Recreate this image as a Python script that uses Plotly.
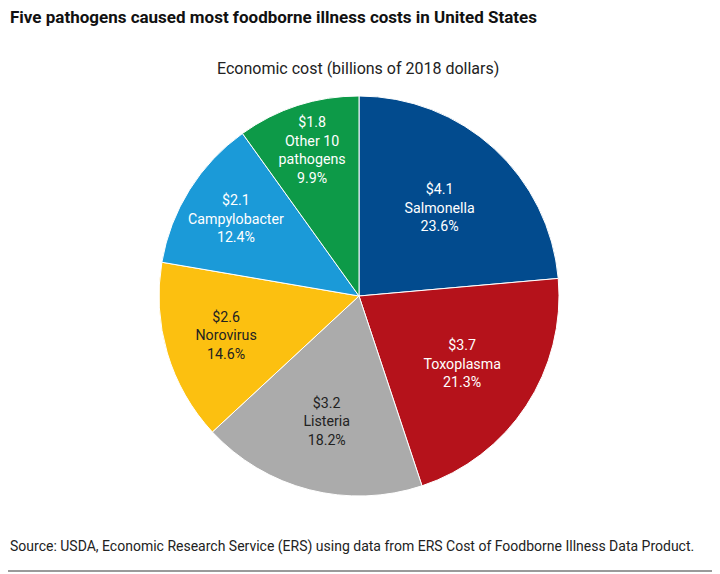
import plotly.graph_objects as go

# slices clockwise from 12 o'clock
pathogens = ["Salmonella", "Toxoplasma", "Listeria", "Norovirus", "Campylobacter", "Other 10<br>pathogens"]
cost_billions = [4.1, 3.7, 3.2, 2.6, 2.1, 1.8]
share_pct = [23.6, 21.3, 18.2, 14.6, 12.4, 9.9]

colors = ["#024b8e", "#b5121b", "#ababab", "#fcc010", "#1b9ad8", "#0d9a48"]
text_colors = ["white", "white", "#222222", "#222222", "white", "white"]

labels = ["$%.1f<br>%s<br>%.1f%%" % (c, p, s) for c, p, s in zip(cost_billions, pathogens, share_pct)]

fig = go.Figure(go.Pie(
    values=share_pct,
    labels=pathogens,
    text=labels,
    textinfo="text",
    textposition="inside",
    insidetextorientation="horizontal",
    textfont=dict(family="Roboto", size=16.5, color=text_colors),
    marker=dict(colors=colors, line=dict(color="white", width=1)),
    sort=False,
    direction="clockwise",
    rotation=0,
    hoverinfo="label+value",
    domain=dict(x=[0.2097, 0.7653], y=[0.1498, 0.8467]),
    showlegend=False,
))

fig.update_layout(
    width=720, height=574,
    margin=dict(l=0, r=0, t=0, b=0),
    paper_bgcolor="white",
    font=dict(family="Roboto", color="#111111"),
    uniformtext=dict(minsize=14, mode="show"),
)

fig.add_annotation(text="<b>Five pathogens caused most foodborne illness costs in United States</b>",
                   xref="paper", yref="paper", x=0.0, y=0.984, xanchor="left", yanchor="middle",
                   showarrow=False, font=dict(size=17, color="#111111"))
fig.add_annotation(text="Economic cost (billions of 2018 dollars)",
                   xref="paper", yref="paper", x=0.486, y=0.895, xanchor="center", yanchor="middle",
                   showarrow=False, font=dict(size=16, color="#222222"))
fig.add_annotation(text="Source: USDA, Economic Research Service (ERS) using data from ERS Cost of Foodborne Illness Data Product.",
                   xref="paper", yref="paper", x=0.0, y=0.0627, xanchor="left", yanchor="middle",
                   showarrow=False, font=dict(size=14, color="#222222"))
fig.add_shape(type="line", xref="paper", yref="paper", x0=-0.02, x1=1, y0=0.019, y1=0.019,
              line=dict(color="#9a9a9a", width=2))

fig.write_html("out.html")
